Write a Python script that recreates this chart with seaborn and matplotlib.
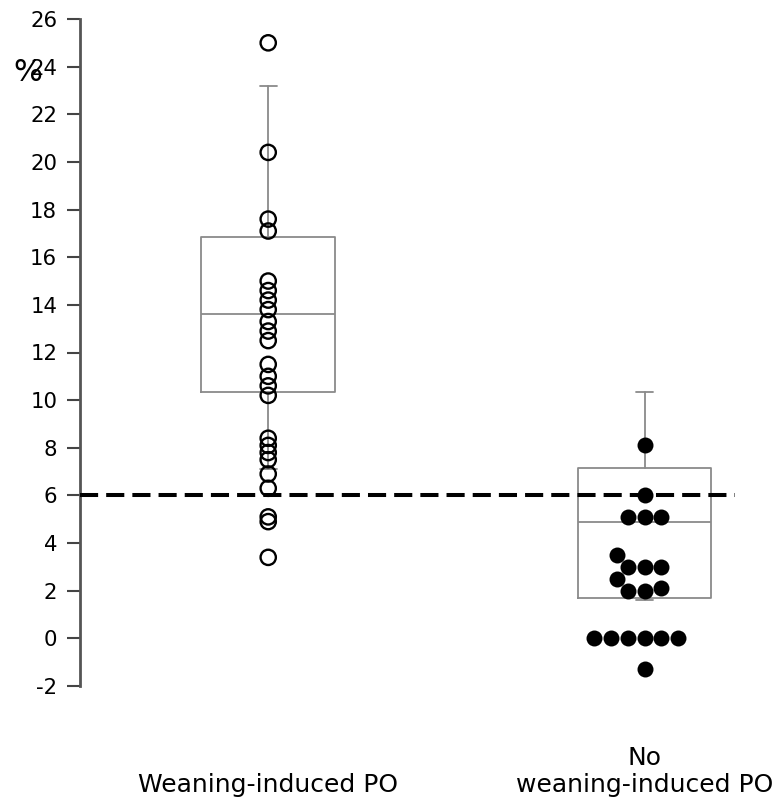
import numpy as np
import pandas as pd
import matplotlib.pyplot as plt
import seaborn as sns

# Data
groups = ["Weaning-induced PO", "No\nweaning-induced PO"]
weaning_po = [25.0, 20.4, 17.6, 17.1, 15.0, 14.6, 14.2, 13.8, 13.3, 12.9, 12.5,
              11.5, 11.0, 10.6, 10.2, 8.4, 8.1, 7.8, 7.5, 6.9, 6.3, 5.1, 4.9, 3.4]
no_weaning_po = [8.1, 6.0, 5.1, 5.1, 5.1, 3.5, 3.0, 3.0, 3.0, 2.5, 2.1, 2.0, 2.0,
                 0.0, 0.0, 0.0, 0.0, 0.0, 0.0, -1.3]

# box statistics as drawn (percentile whiskers)
box_med = [13.6, 4.9]
box_q1 = [10.33, 1.69]
box_q3 = [16.86, 7.15]
whis_lo = [7.1, 1.6]
whis_hi = [23.2, 10.36]

threshold = 6
y_ticks = list(range(-2, 27, 2))

df = pd.DataFrame({
    "group": [groups[0]] * len(weaning_po) + [groups[1]] * len(no_weaning_po),
    "value": weaning_po + no_weaning_po,
})

sns.set_style("white")
plt.rcParams['font.family'] = ['DejaVu Sans']

fig = plt.figure(figsize=(7.8, 8.01), dpi=100)
ax = fig.add_axes([80 / 780, 1 - 686 / 801, 655 / 780, 667 / 801])

# boxes
stats = []
for i in range(2):
    stats.append(dict(med=box_med[i], q1=box_q1[i], q3=box_q3[i],
                      whislo=whis_lo[i], whishi=whis_hi[i], fliers=[]))
gray = dict(color="#8a8a8a", linewidth=1.3)
ax.bxp(stats, positions=[0, 1], widths=0.355, capwidths=0.045, showfliers=False,
       boxprops=gray, whiskerprops=gray, capprops=gray, medianprops=gray,
       manage_ticks=False)

# points: open circles for the first group
n_before = len(ax.collections)
sns.stripplot(data=df[df["group"] == groups[0]], x="group", y="value", order=groups,
              jitter=False, size=11, color="black", linewidth=1.7,
              edgecolor="black", ax=ax, zorder=3)
for coll in ax.collections[n_before:]:
    coll.set_facecolor("none")
    coll.set_edgecolor("black")

# filled circles for the second group
sns.swarmplot(data=df[df["group"] == groups[1]], x="group", y="value", order=groups,
              size=11.5, color="black", linewidth=0, ax=ax, zorder=3)

# threshold line
ax.axhline(threshold, color="black", linewidth=2.9, linestyle=(0, (4.5, 2)), zorder=4)

ax.set_xlim(-0.5, 1.24)
ax.set_ylim(-2, 26)
ax.set_yticks(y_ticks)
ax.set_yticklabels([str(t) for t in y_ticks], fontsize=15.3, color="black")
ax.set_xticks([0, 1])
ax.set_xticklabels(groups, fontsize=18, color="black")
for lab in ax.get_xticklabels():
    lab.set_verticalalignment("bottom")
    lab.set_linespacing(1.15)
ax.tick_params(axis="x", bottom=False, length=0, pad=80)
ax.tick_params(axis="y", left=True, direction="out", length=9.4, width=1.5,
               color="#444444", pad=7)
ax.set_xlabel("")
ax.set_ylabel("%", fontsize=22, rotation=0, ha="center", va="center", color="black")
ax.yaxis.set_label_coords(-0.079, 0.92)

for side in ["top", "right", "bottom"]:
    ax.spines[side].set_visible(False)
ax.spines["left"].set_color("#555555")
ax.spines["left"].set_linewidth(2)

plt.savefig("out.png", dpi=100)
plt.close()
